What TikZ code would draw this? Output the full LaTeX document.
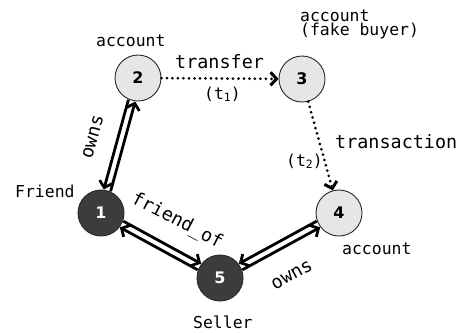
\documentclass[tikz,border=0pt]{standalone}
\usepackage{fontspec}
\setmainfont{DejaVu Sans Mono}
\newfontfamily\numfont{DejaVu Sans}
\usetikzlibrary{arrows.meta}
\definecolor{lightfill}{HTML}{E6E6E6}
\definecolor{darkfill}{HTML}{3C3C3C}
\tikzset{
  lightnode/.style={circle, draw=black!85, line width=0.9bp, fill=lightfill,
    minimum size=46bp, inner sep=0pt, font=\numfont\bfseries\fontsize{16}{16}\selectfont},
  darknode/.style={lightnode, fill=darkfill, text=white},
  rel/.style={line width=2.8bp, -{Straight Barb[length=6bp,width=13bp]}},
  dotrel/.style={rel, line width=3bp, dash pattern=on 0pt off 5.5bp, line cap=round},
  lab/.style={inner sep=0pt, font=\fontsize{16.5}{16.5}\selectfont},
  elab/.style={inner sep=0pt, font=\fontsize{18.5}{18.5}\selectfont},
}
\newcommand{\mysub}[1]{\raisebox{-2.5bp}{\fontsize{11.5}{11.5}\selectfont #1}}
\begin{document}
\begin{tikzpicture}[x=1bp,y=-1bp]
\useasboundingbox (0,0) rectangle (461,332);
% nodes
\node[lightnode] (n2) at (138,78) {2};
\node[lightnode] (n3) at (302,79) {3};
\node[lightnode] (n4) at (339,213) {4};
\node[darknode] (n1) at (101,213) {1};
\node[darknode] (n5) at (220,278) {5};
% node labels
\node[lab, anchor=base west] (l2) at (96,46) {account};
\node[lab, anchor=base west] (l3a) at (300,21) {account};
\node[lab, anchor=base west] (l3b) at (300,35) {(fake buyer)};
\node[lab, anchor=base west] (l1) at (15,197) {Friend};
\node[lab, anchor=base west] (l5) at (193,328) {Seller};
\node[lab, anchor=base west] (l4) at (342,254) {account};
% edge labels
\node[elab, anchor=base west] (et) at (175,68) {transfer};
\node[lab, anchor=base west] (et1) at (204,99) {(t\mysub{1})};
\node[elab, anchor=base west] (etr) at (335,148) {transaction};
\node[lab, anchor=base west] (et2) at (286,166) {(t\mysub{2})};
\node[elab, rotate=74.7] (eo1) at (93,137) {owns};
\node[elab, rotate=-27.5] (ef) at (177,221) {friend\_of};
\node[elab, rotate=28.6] (eo2) at (292,275) {owns};
% edges
\draw[rel, transform canvas={xshift=3.4bp,yshift=-0.9bp}] (n1) -- (n2);
\draw[rel, transform canvas={xshift=-3.4bp,yshift=0.9bp}] (n2) -- (n1);
\draw[rel, transform canvas={xshift=1.7bp,yshift=3.1bp}] (n1) -- (n5);
\draw[rel, transform canvas={xshift=-1.7bp,yshift=-3.1bp}] (n5) -- (n1);
\draw[rel, transform canvas={xshift=-1.7bp,yshift=3.1bp}] (n4) -- (n5);
\draw[rel, transform canvas={xshift=1.7bp,yshift=-3.1bp}] (n5) -- (n4);
\draw[dotrel] (n2) -- (n3);
\draw[dotrel] (n3) -- (n4);
\end{tikzpicture}
\end{document}
